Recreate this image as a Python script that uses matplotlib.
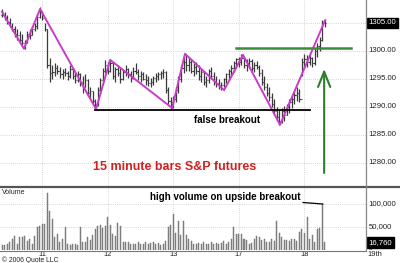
import numpy as np
import matplotlib
matplotlib.use("Agg")
import matplotlib.pyplot as plt

plt.rcParams['font.family'] = ['Liberation Sans', 'DejaVu Sans']

# 15 minute bars, S&P futures (high, low, close); open = previous close
high = [1307.5, 1307.0, 1306.5, 1305.8, 1305.0, 1304.5, 1304.0, 1303.5, 1303.0, 1302.0,
        1303.5, 1304.0, 1304.5, 1305.0, 1306.5, 1307.8,
        # day 11
        1307.2, 1305.0, 1304.0, 1298.8, 1297.5, 1297.8, 1297.5, 1297.2, 1296.8, 1297.0,
        1296.5, 1297.5, 1297.0, 1296.2, 1296.5, 1296.0, 1295.5, 1295.8, 1295.0, 1293.5,
        1292.8, 1291.5, 1293.5, 1295.2, 1297.0, 1298.4,
        # day 12
        1298.0, 1298.6, 1298.0, 1297.2, 1297.5, 1297.0, 1296.8, 1297.5, 1297.0, 1296.5,
        1297.2, 1297.8, 1296.8, 1296.5, 1296.2, 1295.8, 1295.5, 1295.2, 1295.5, 1296.0,
        1296.2, 1296.5, 1296.8, 1296.5, 1293.5, 1291.8,
        # day 13
        1292.0, 1293.5, 1295.5, 1297.5, 1299.0, 1299.4, 1298.8, 1298.5, 1297.8, 1298.0,
        1297.5, 1296.8, 1296.5, 1295.5, 1296.8, 1297.2, 1296.2, 1295.5, 1295.0, 1294.5,
        1295.2, 1296.0, 1296.8, 1297.5, 1298.2, 1298.8,
        # day 17
        1299.0, 1299.4, 1299.0, 1298.5, 1298.8, 1298.5, 1298.0, 1298.2, 1297.5, 1296.8,
        1295.5, 1294.2, 1293.5, 1292.5, 1291.5, 1290.0, 1289.5, 1289.8, 1290.2, 1290.5,
        1291.5, 1292.0, 1292.8, 1293.5, 1293.2, 1298.8,
        # day 18
        1299.5, 1299.2, 1299.6, 1299.0, 1300.5, 1301.5, 1302.5, 1305.5, 1305.5]
low = [1306.0, 1305.5, 1304.8, 1304.2, 1303.5, 1302.5, 1302.0, 1301.5, 1301.0, 1300.4,
       1301.5, 1302.2, 1302.8, 1303.5, 1304.0, 1305.8,
       1305.5, 1303.5, 1297.0, 1294.5, 1295.0, 1295.5, 1295.8, 1295.2, 1295.0, 1295.5,
       1294.8, 1295.2, 1295.0, 1294.2, 1294.5, 1293.8, 1292.5, 1293.5, 1292.0, 1291.5,
       1290.5, 1289.6, 1290.2, 1292.5, 1294.5, 1296.0,
       1295.8, 1296.2, 1295.0, 1294.5, 1295.5, 1294.2, 1294.8, 1295.5, 1295.2, 1294.5,
       1295.0, 1295.8, 1294.8, 1294.5, 1294.8, 1294.0, 1293.8, 1293.5, 1294.0, 1294.5,
       1294.8, 1295.0, 1295.2, 1292.5, 1290.5, 1289.6,
       1289.8, 1290.8, 1292.5, 1294.5, 1296.0, 1296.5, 1296.5, 1296.0, 1295.5, 1295.8,
       1294.8, 1294.5, 1294.0, 1293.5, 1294.2, 1295.0, 1294.0, 1293.5, 1293.2, 1293.0,
       1293.5, 1294.2, 1294.8, 1295.5, 1296.2, 1297.0,
       1297.2, 1297.5, 1297.0, 1296.5, 1297.0, 1296.5, 1296.2, 1296.8, 1295.5, 1294.0,
       1293.0, 1292.0, 1291.0, 1290.0, 1288.5, 1287.5, 1286.8, 1287.2, 1287.5, 1288.5,
       1289.0, 1289.8, 1290.5, 1291.0, 1290.8, 1295.5,
       1297.0, 1297.2, 1297.5, 1297.2, 1297.5, 1299.0, 1300.0, 1301.8, 1304.2]
close = [1306.5, 1306.0, 1305.2, 1304.5, 1304.0, 1303.0, 1302.8, 1302.0, 1301.5, 1301.8,
         1303.0, 1302.8, 1304.0, 1304.5, 1306.0, 1307.0,
         1305.8, 1304.0, 1297.5, 1296.0, 1296.2, 1297.0, 1296.5, 1295.8, 1296.2, 1296.0,
         1295.5, 1296.8, 1295.5, 1294.8, 1295.8, 1294.5, 1293.5, 1294.8, 1292.5, 1292.8,
         1291.0, 1290.5, 1293.0, 1294.8, 1296.5, 1297.5,
         1296.5, 1297.8, 1295.5, 1296.8, 1296.0, 1295.0, 1296.2, 1296.8, 1295.8, 1295.2,
         1296.5, 1296.2, 1295.5, 1295.8, 1295.0, 1294.8, 1294.2, 1294.5, 1295.2, 1295.5,
         1295.8, 1296.0, 1296.2, 1293.0, 1291.0, 1290.8,
         1291.5, 1293.0, 1295.0, 1297.0, 1298.0, 1297.5, 1298.0, 1296.5, 1297.2, 1296.5,
         1295.5, 1296.2, 1294.5, 1294.8, 1296.5, 1295.5, 1294.5, 1294.2, 1293.8, 1294.0,
         1295.0, 1295.8, 1296.5, 1297.0, 1297.8, 1298.5,
         1298.0, 1298.8, 1297.5, 1297.8, 1298.2, 1297.0, 1297.5, 1297.2, 1296.0, 1294.5,
         1293.5, 1292.5, 1291.8, 1290.5, 1289.2, 1288.2, 1287.5, 1289.2, 1288.5, 1290.0,
         1290.8, 1291.5, 1292.2, 1292.5, 1291.5, 1298.0,
         1298.5, 1298.0, 1298.8, 1297.8, 1300.0, 1300.8, 1302.0, 1305.0, 1305.0]
# volume in thousands of contracts
volume = [10, 11, 13, 17, 25, 30, 14, 28, 28, 31, 20, 24, 12, 30, 50, 53,
          57, 56, 123, 85, 67, 28, 34, 18, 25, 49, 12, 11, 12, 14, 11, 49, 18, 18, 28, 22,
          32, 45, 52, 55, 47, 53,
          71, 55, 35, 30, 58, 53, 18, 18, 17, 14, 12, 14, 18, 12, 14, 18, 12, 16, 18, 14,
          16, 11, 12, 20, 49, 54,
          78, 36, 62, 33, 63, 33, 25, 20, 14, 12, 15, 13, 17, 12, 14, 18, 13, 16, 12, 15,
          20, 14, 18, 25, 51, 35,
          35, 35, 25, 22, 12, 15, 25, 30, 28, 22, 25, 18, 18, 25, 20, 62, 38, 28, 22, 22,
          20, 24, 24, 20, 40, 45,
          38, 72, 25, 32, 18, 45, 48, 100, 16.76]

day_labels = ['11', '12', '13', '17', '18', '19th']
day_starts = [16, 42, 68, 94, 120, 146]
price_ticks = [1280, 1285, 1290, 1295, 1300, 1305]
price_labels = ['1280.00', '1285.00', '1290.00', '1295.00', '1300.00', '1305.00']
vol_ticks = [0, 50, 100]
vol_labels = ['0', '50,000', '100,000']
last_price = 1305.0
last_volume = 16.76

# analyst's drawing: zigzag pivots (bar index, price) and lines
zig_t = [0, 8.7, 15.1, 37.3, 42.9, 67.5, 72.6, 88.1, 95.6, 110.3, 128.2]
zig_p = [1307.0, 1300.4, 1307.5, 1289.6, 1298.4, 1289.8, 1299.5, 1293.0, 1299.3, 1286.8, 1305.5]
support_t = [36.9, 122.2]
support_p = 1289.5
resist_t = [92.9, 138.5]
resist_p = 1300.5
arrow_t = 127.8
arrow_p = [1278.2, 1296.8]

W, H = 400, 263
fig = plt.figure(figsize=(4, 2.63), dpi=100)
ax = fig.add_axes([0, 1 - 187 / H, 366 / W, 187 / H])
axv = fig.add_axes([0, 1 - 250 / H, 366 / W, 62 / H])

t = np.arange(len(close))
opens = [close[0]] + close[:-1]
barc = '#3a3a3a'
ax.vlines(t, low, high, color=barc, lw=0.9)
ax.hlines(close, t, t + 0.45, color=barc, lw=0.8)
ax.hlines(opens, t - 0.45, t, color=barc, lw=0.8)

ax.plot(zig_t, zig_p, color='#c83cc8', lw=1.4)
ax.plot(support_t, [support_p] * 2, color='black', lw=1.3)
ax.plot(resist_t, [resist_p] * 2, color='#3c8c3c', lw=1.8)
ax.annotate('', xy=(arrow_t, arrow_p[1]), xytext=(arrow_t, arrow_p[0]),
            arrowprops=dict(arrowstyle='->,head_length=0.55,head_width=0.22',
                            color='#2e7d2e', lw=1.5, mutation_scale=20,
                            shrinkA=0, shrinkB=0))

axv.bar(t, volume, width=0.4, color='#8c8c8c', edgecolor='#6a6a6a', lw=0.3)

x0, x1 = -0.8, 144.4
for a in (ax, axv):
    a.set_xlim(x0, x1)
    a.set_xticks([])
    a.set_yticks([])
    for s in a.spines.values():
        s.set_visible(False)
    for d in day_starts[:-1]:
        a.axvline(d, color='#c8c8c8', lw=0.6, ls=(0, (1, 1.5)), zorder=0)
ax.set_ylim(1275.7, 1309.1)
axv.set_ylim(0, 134.8)
for p in price_ticks:
    ax.axhline(p, color='#c8c8c8', lw=0.6, ls=(0, (1, 1.5)), zorder=0)
for v in vol_ticks[1:]:
    axv.axhline(v, color='#c8c8c8', lw=0.6, ls=(0, (1, 1.5)), zorder=0)

# right axis labels
tf = dict(fontsize=5.6, color='#222222', va='center', ha='left', clip_on=False)
for p, lab in zip(price_ticks, price_labels):
    if p == last_price:
        continue
    ax.text(x1 + 1, p, lab, **tf)
ax.text(x1 + 1, last_price, '1305.00', fontsize=5.6, color='white', va='center', ha='left',
        bbox=dict(boxstyle='square,pad=0.25', fc='black', ec='black'), clip_on=False)
for v, lab in zip(vol_ticks[1:], vol_labels[1:]):
    axv.text(x1 + 1, v, lab, **tf)
axv.text(x1 + 1, 3.2, vol_labels[0], fontsize=4.6, color='#222222', va='center', ha='left',
         clip_on=False)
axv.text(x1 + 1, last_volume, '16,760', fontsize=5.6, color='white', va='center', ha='left',
         bbox=dict(boxstyle='square,pad=0.25', fc='black', ec='black'), clip_on=False)

# day labels under the volume panel
for d, lab in zip(day_starts, day_labels):
    axv.text(d if lab != '19th' else x1 + 0.5, -9.8, lab, fontsize=5.4, color='#222222',
             ha='center' if lab != '19th' else 'left', va='center', clip_on=False)

# frame lines
fig.add_artist(plt.Line2D([0, 1], [1 - 187 / H] * 2, color='#555555', lw=1.6))
fig.add_artist(plt.Line2D([0, 366 / W], [1 - 250.5 / H] * 2, color='#777777', lw=0.8))
fig.add_artist(plt.Line2D([366 / W] * 2, [1 - 250.5 / H, 1], color='#888888', lw=0.9))

fig.text(2 / W, 1 - 192 / H, 'Volume', fontsize=5, color='#222222', va='center')
fig.text(2 / W, 1 - 260.4 / H, '\u00a9 2006 Quote LLC', fontsize=4.9, color='#222222', va='center')

ax.text(227.5 / 366, 1 - 120 / 187, 'false breakout', transform=ax.transAxes, fontsize=7,
        fontweight='bold', ha='center', va='center', color='black')
ax.text(0.476, 1 - 167 / 187, '15 minute bars S&P futures', transform=ax.transAxes,
        fontsize=9, fontweight='bold', ha='center', va='center', color='#d42020')
axv.annotate('high volume on upside breakout', xy=(127.3, 100), xytext=(300 / 2.52 - 2 / 2.52, 116),
             textcoords='data', fontsize=7, fontweight='bold', ha='right', va='center',
             arrowprops=dict(arrowstyle='-', color='black', lw=0.9, shrinkA=0, shrinkB=0))

fig.savefig('out.png', dpi=100)
